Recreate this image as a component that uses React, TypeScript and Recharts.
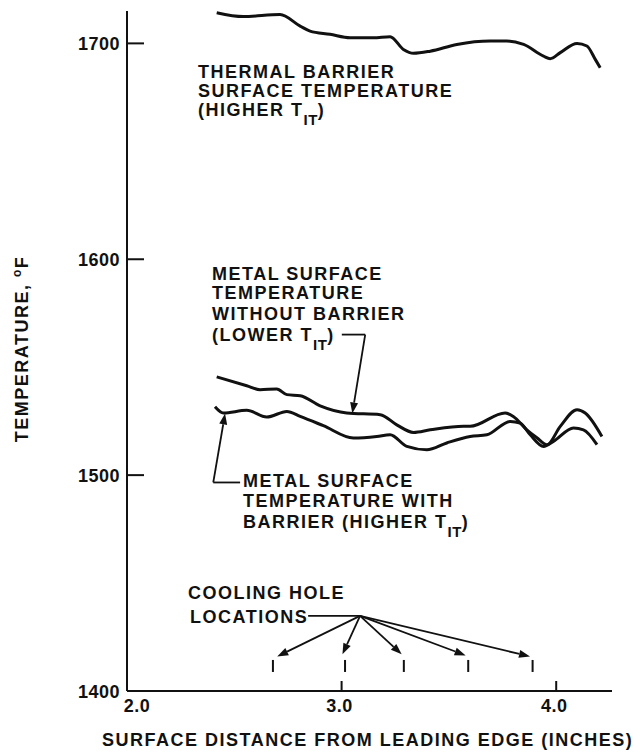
import React from "react";
import { ComposedChart, Line, Scatter, XAxis, YAxis, ReferenceLine } from "recharts";

// Thermal barrier surface temperature (higher T_IT)
const thermalX = [2.418, 2.542, 2.713, 2.807, 2.853, 2.946, 3.04, 3.148, 3.226, 3.288, 3.335, 3.413, 3.537, 3.692, 3.77, 3.848, 3.941, 3.972, 4.019, 4.097, 4.143, 4.182, 4.205];
const thermalT = [1714.2, 1712.4, 1713.4, 1708.0, 1705.7, 1704.2, 1702.6, 1702.6, 1703.1, 1697.2, 1695.4, 1696.4, 1699.5, 1701.1, 1701.1, 1699.5, 1694.1, 1692.9, 1695.7, 1700.0, 1698.8, 1692.6, 1688.7];

// Metal surface temperature without barrier (lower T_IT)
const withoutX = [2.418, 2.558, 2.62, 2.698, 2.745, 2.807, 2.9, 3.024, 3.18, 3.257, 3.335, 3.413, 3.568, 3.599, 3.762, 3.8, 3.863, 3.91, 3.957, 4.019, 4.097, 4.135, 4.213];
const withoutT = [1545.5, 1541.4, 1539.6, 1539.9, 1537.3, 1536.8, 1532.1, 1528.8, 1528.0, 1523.3, 1519.8, 1521.0, 1522.6, 1522.6, 1528.8, 1527.2, 1521.0, 1517.3, 1514.1, 1522.6, 1530.3, 1528.8, 1517.9];

// Metal surface temperature with barrier (higher T_IT)
const withX = [2.41, 2.449, 2.558, 2.651, 2.745, 2.807, 2.915, 3.055, 3.164, 3.226, 3.304, 3.397, 3.49, 3.599, 3.677, 3.786, 3.832, 3.879, 3.941, 3.987, 4.081, 4.127, 4.19];
const withT = [1531.7, 1528.8, 1530.0, 1526.9, 1529.5, 1527.2, 1522.9, 1517.2, 1517.9, 1518.7, 1513.3, 1511.7, 1514.9, 1517.9, 1518.7, 1524.9, 1524.1, 1518.7, 1513.3, 1515.6, 1521.8, 1521.0, 1514.1];

// Cooling hole locations
const holeX = [2.68, 3.016, 3.29, 3.59, 3.89];
const holeT = [1411.6, 1411.6, 1411.6, 1411.6, 1411.6];
const holeArrowTipT = [1416, 1417, 1417, 1416.5, 1416];
const holeHub = { x: 3.086, y: 1434.8 };
const holeLeaderStart = { x: 2.844, y: 1434.8 };

// Annotation leaders
const leaderWithout = [{ x: 3.001, y: 1565.1 }, { x: 3.11, y: 1565.1 }, { x: 3.05, y: 1528.6 }];
const leaderWith = [{ x: 2.527, y: 1496.6 }, { x: 2.402, y: 1496.6 }, { x: 2.457, y: 1528.6 }];

const xTicks = [2, 3, 4];
const yTicks = [1400, 1500, 1600, 1700];

const zip = (xs: number[], ts: number[]) => xs.map((x, i) => ({ x, t: ts[i] }));
const thermalData = zip(thermalX, thermalT);
const withoutData = zip(withoutX, withoutT);
const withData = zip(withX, withT);
const holeData = zip(holeX, holeT);

const INK = "#111";
const FONT = "'Liberation Sans', Arial, Helvetica, sans-serif";
const txt = { fontFamily: FONT, fontWeight: 700, fontSize: 18, letterSpacing: 1.5, fill: INK } as const;

const YTick = (props: any) => {
  const { x, y, payload } = props;
  return (
    <g>
      <text x={x - 7} y={y + 7} textAnchor="end" {...txt} letterSpacing={0.5}>
        {payload.value}
      </text>
      {payload.value !== 1400 && <line x1={x} x2={x + 17} y1={y} y2={y} stroke={INK} strokeWidth={2} />}
    </g>
  );
};

const XTick = (props: any) => {
  const { x, y, payload } = props;
  const v = payload.value;
  return (
    <g>
      <text x={v === 2 ? x + 10 : x - 2} y={y + 21} textAnchor="middle" {...txt} letterSpacing={0.5}>
        {v.toFixed(1)}
      </text>
      {v !== 2 && <line x1={x} x2={x} y1={y} y2={y - 10} stroke={INK} strokeWidth={2} />}
    </g>
  );
};

const arrowShape = (head: boolean, w = 1.8) => (p: any) => {
  const { x1, y1, x2, y2 } = p;
  if (x1 == null) return <g />;
  const ang = Math.atan2(y2 - y1, x2 - x1);
  const L = 11;
  const H = 4;
  const bx = x2 - L * Math.cos(ang);
  const by = y2 - L * Math.sin(ang);
  const px = -Math.sin(ang) * H;
  const py = Math.cos(ang) * H;
  return (
    <g>
      <line x1={x1} y1={y1} x2={head ? bx : x2} y2={head ? by : y2} stroke={INK} strokeWidth={w} />
      {head && <polygon points={`${x2},${y2} ${bx + px},${by + py} ${bx - px},${by - py}`} fill={INK} />}
    </g>
  );
};

const HoleTick = (p: any) => (
  <line x1={p.cx} x2={p.cx} y1={p.cy - 6} y2={p.cy + 6} stroke={INK} strokeWidth={2} />
);

const Sub = ({ s }: { s: string }) => (
  <>
    <tspan fontSize={15} dy={9} letterSpacing={0.5}>{s}</tspan>
    <tspan dy={-9}>)</tspan>
  </>
);

export default function App() {
  return (
    <div style={{ position: "absolute", left: 0, top: 0, width: 633, height: 752, background: "#fff" }}>
      <ComposedChart width={633} height={752} margin={{ top: 11, right: 21, left: 0, bottom: 0 }}>
        <XAxis
          type="number"
          dataKey="x"
          domain={[2, 4.26]}
          ticks={xTicks}
          allowDataOverflow
          height={61}
          tickSize={0}
          tickMargin={0}
          tickLine={false}
          tick={XTick}
          axisLine={{ stroke: INK, strokeWidth: 2 }}
        />
        <YAxis
          type="number"
          dataKey="t"
          domain={[1400, 1715]}
          ticks={yTicks}
          allowDataOverflow
          width={127}
          tickSize={0}
          tickMargin={0}
          tickLine={false}
          tick={YTick}
          axisLine={{ stroke: INK, strokeWidth: 2 }}
        />
        <Line data={thermalData} dataKey="t" type="monotone" stroke={INK} strokeWidth={3} dot={false} isAnimationActive={false} />
        <Line data={withoutData} dataKey="t" type="monotone" stroke={INK} strokeWidth={3} dot={false} isAnimationActive={false} />
        <Line data={withData} dataKey="t" type="monotone" stroke={INK} strokeWidth={3} dot={false} isAnimationActive={false} />
        <Scatter data={holeData} dataKey="t" shape={HoleTick} isAnimationActive={false} />

        <ReferenceLine segment={[leaderWithout[0], leaderWithout[1]]} shape={arrowShape(false)} ifOverflow="visible" />
        <ReferenceLine segment={[leaderWithout[1], leaderWithout[2]]} shape={arrowShape(true)} ifOverflow="visible" />
        <ReferenceLine segment={[leaderWith[0], leaderWith[1]]} shape={arrowShape(false)} ifOverflow="visible" />
        <ReferenceLine segment={[leaderWith[1], leaderWith[2]]} shape={arrowShape(true)} ifOverflow="visible" />
        <ReferenceLine segment={[holeLeaderStart, holeHub]} shape={arrowShape(false)} ifOverflow="visible" />
        {holeX.map((hx, i) => (
          <ReferenceLine
            key={i}
            segment={[holeHub, { x: hx + (i === 0 ? 0.02 : i === 2 ? -0.01 : -0.012), y: holeArrowTipT[i] }]}
            shape={arrowShape(true)}
            ifOverflow="visible"
          />
        ))}

        <g>
          <text x={198} y={78} {...txt}>THERMAL BARRIER</text>
          <text x={198} y={97} {...txt}>SURFACE TEMPERATURE</text>
          <text x={198} y={116} {...txt}>(HIGHER T<Sub s="IT" /></text>

          <text x={212} y={280} {...txt}>METAL SURFACE</text>
          <text x={212} y={299} {...txt}>TEMPERATURE</text>
          <text x={212} y={320} {...txt}>WITHOUT BARRIER</text>
          <text x={212} y={341} {...txt}>(LOWER T<Sub s="IT" /></text>

          <text x={243} y={487} {...txt}>METAL SURFACE</text>
          <text x={243} y={507} {...txt}>TEMPERATURE WITH</text>
          <text x={243} y={528} {...txt}>BARRIER (HIGHER T<Sub s="IT" /></text>

          <text x={188} y={599} {...txt}>COOLING HOLE</text>
          <text x={190} y={623} {...txt}>LOCATIONS</text>

          <text x={102} y={746} {...txt}>SURFACE DISTANCE FROM LEADING EDGE (INCHES)</text>

          <text x={28} y={349} textAnchor="middle" transform="rotate(-90, 28, 349)" {...txt}>
            TEMPERATURE, <tspan fontSize={12} dy={-7}>o</tspan><tspan dy={7}>F</tspan>
          </text>
        </g>
      </ComposedChart>
    </div>
  );
}
